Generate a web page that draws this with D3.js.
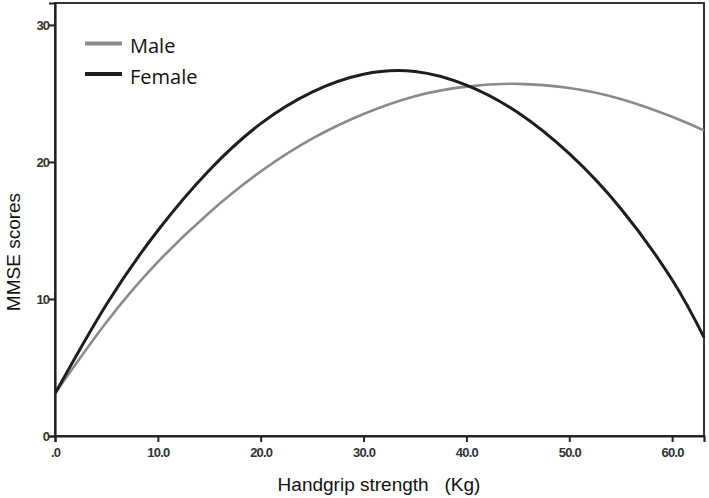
<!DOCTYPE html>
<html><head><meta charset="utf-8">
<script src="https://cdn.jsdelivr.net/npm/d3@7"></script>
<style>body{margin:0;background:#fff}</style>
</head><body>
<svg id="c" width="709" height="498"></svg>
<script>
const xVals = [0, 5, 10, 15, 20, 25, 30, 35, 40, 45, 50, 55, 60, 63.1];
const maleVals = [3.1, 8.3, 12.7, 16.3, 19.3, 21.7, 23.5, 24.8, 25.5, 25.7, 25.4, 24.6, 23.3, 22.3];
const femaleVals = [3.1, 9.6, 15.0, 19.4, 22.8, 25.1, 26.4, 26.6, 25.6, 23.6, 20.6, 16.6, 11.4, 7.2];
const xTicks = [0, 10, 20, 30, 40, 50, 60];
const yTicks = [0, 10, 20, 30];
const seriesNames = ["Male", "Female"];
const seriesColors = ["#8a8a8a", "#1e1e1e"];

const svg = d3.select("#c");
const L = 55, R = 704, T = 3, B = 436;
const x = d3.scaleLinear().domain([0, 63.1]).range([L, R]);
const y = d3.scaleLinear().domain([0, 31.6]).range([B, T]);

// frame
svg.append("rect").attr("x", L).attr("y", T).attr("width", R - L).attr("height", B - T)
  .attr("fill", "none").attr("stroke", "#333").attr("stroke-width", 2);

const xAxis = svg.append("g").attr("transform", `translate(0,${B})`)
  .call(d3.axisBottom(x).tickValues(xTicks).tickSizeOuter(0).tickSize(6)
    .tickFormat(d => d === 0 ? ".0" : d3.format(".1f")(d)));
const yAxis = svg.append("g").attr("transform", `translate(${L},0)`)
  .call(d3.axisLeft(y).tickValues(yTicks).tickSizeOuter(0).tickSize(6));
[xAxis, yAxis].forEach(g => {
  g.select(".domain").attr("stroke", "#222").attr("stroke-width", 2.2);
  g.selectAll(".tick line").attr("stroke", "#222").attr("stroke-width", 2);
  g.selectAll("text").attr("font-family", "Liberation Sans, Arial, sans-serif")
    .attr("font-size", 13).attr("font-weight", "bold").attr("fill", "#333")
    .attr("letter-spacing", "-0.8");
});
xAxis.selectAll("text").attr("dy", "0.9em");
yAxis.selectAll("text").attr("dx", "0.25em");

const line = d3.line().x(d => x(d[0])).y(d => y(d[1])).curve(d3.curveNatural);
const series = [maleVals, femaleVals];
series.forEach((vals, i) => {
  svg.append("path").datum(xVals.map((xv, j) => [xv, vals[j]]))
    .attr("d", line).attr("fill", "none").attr("stroke", seriesColors[i])
    .attr("stroke-width", i === 0 ? 2.6 : 3);
});

// legend
seriesNames.forEach((n, i) => {
  const ly = 43.5 + i * 30.5;
  svg.append("line").attr("x1", 85).attr("x2", 122).attr("y1", ly).attr("y2", ly)
    .attr("stroke", seriesColors[i]).attr("stroke-width", 4);
  svg.append("text").attr("x", 130).attr("y", ly + 9.5).text(n)
    .attr("font-family", "Open Sans, sans-serif").attr("font-size", 20).attr("fill", "#111");
});

svg.append("text").attr("x", 379).attr("y", 491).attr("text-anchor", "middle")
  .attr("font-family", "Liberation Sans, Arial, sans-serif").attr("font-size", 19).attr("fill", "#111")
  .attr("xml:space", "preserve").style("white-space", "pre")
  .text("Handgrip strength   (Kg)");
svg.append("text").attr("transform", "translate(20,252) rotate(-90)").attr("text-anchor", "middle")
  .attr("font-family", "Liberation Sans, Arial, sans-serif").attr("font-size", 19).attr("fill", "#111")
  .text("MMSE scores");
</script>
</body></html>
